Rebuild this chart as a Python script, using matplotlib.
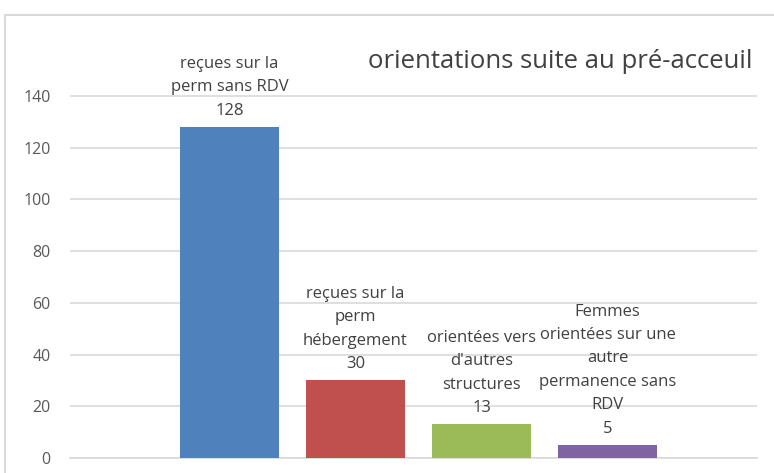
import matplotlib
matplotlib.use("Agg")
import matplotlib.pyplot as plt
from matplotlib.patches import Rectangle

categories = ["reçues sur la\nperm sans RDV", "reçues sur la\nperm\nhébergement",
              "orientées vers\nd'autres\nstructures", "Femmes\norientées sur une\nautre\npermanence sans\nRDV"]
values = [128, 30, 13, 5]
colors = ["#4F81BD", "#C0504D", "#9BBB59", "#8064A2"]
yticks = [0, 20, 40, 60, 80, 100, 120, 140]
title = "orientations suite au pré-acceuil"

plt.rcParams['font.family'] = ['Open Sans', 'DejaVu Sans']

W, H = 774, 473
fig = plt.figure(figsize=(W / 100, H / 100), dpi=100)

# outer chart frame
fig.patches.append(Rectangle((5 / W, -0.05), 1.0, 1 - 15 / H + 0.05, transform=fig.transFigure,
                             fill=False, edgecolor="#D9D9D9", linewidth=1.5))

x0, x1 = 70, 757
ytop, ybot = 70, 458
ax = fig.add_axes([x0 / W, 1 - ybot / H, (x1 - x0) / W, (ybot - ytop) / H])

pos = list(range(len(values)))
ax.bar(pos, values, width=0.79, color=colors, zorder=3)
ax.set_xlim(-1.266, 3 + 1.187)
ax.set_ylim(0, 150)
ax.set_yticks(yticks)
ax.tick_params(axis='y', length=0, labelsize=11.5, labelcolor="#595959", pad=14)
ax.set_xticks([])
for s in ["top", "right", "left"]:
    ax.spines[s].set_visible(False)
ax.spines["bottom"].set_color("#D9D9D9")
ax.spines["bottom"].set_linewidth(1.2)
ax.yaxis.grid(True, color="#D9D9D9", linewidth=1.2, zorder=0)

for p, v, c in zip(pos, values, categories):
    ax.annotate(f"{c}\n{v}", (p, v), xytext=(0, 6), textcoords="offset points",
                ha="center", va="bottom", fontsize=12, color="#404040", linespacing=1.62)

fig.text(560 / W, 1 - 62 / H, title, ha="center", va="center", fontsize=18.5, color="#404040")

fig.savefig("out.png", dpi=100)
